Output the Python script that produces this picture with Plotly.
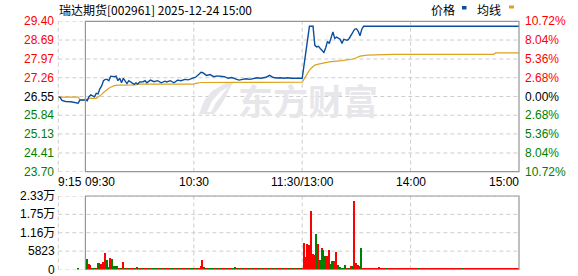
import plotly.graph_objects as go

W, H = 578, 276

title_text = "瑞达期货[002961] 2025-12-24 15:00"
prev_close = 26.55
price_ticks = [29.40, 28.69, 27.97, 27.26, 26.55, 25.84, 25.13, 24.41, 23.70]
pct_labels = ["10.72%", "8.04%", "5.36%", "2.68%", "0.00%", "2.68%", "5.36%", "8.04%", "10.72%"]
vol_ticks = [23292, 17469, 11646, 5823, 0]
vol_labels = ["2.33万", "1.75万", "1.16万", "5823", "0"]
xtick_times = ["09:15", "09:30", "10:30", "11:30", "14:00", "15:00"]
xtick_labels = ["9:15", "09:30", "10:30", "11:30/13:00", "14:00", "15:00"]
legend_names = ["价格", "均线"]
watermark = "东方财富"

price_times = ["09:15", "09:16", "09:17", "09:19", "09:22", "09:24", "09:26", "09:27", "09:30", "09:31",
               "09:32", "09:33", "09:34", "09:35", "09:36", "09:37", "09:38", "09:39", "09:40", "09:41",
               "09:42", "09:43", "09:44", "09:45", "09:46", "09:47", "09:48", "09:49", "09:50", "09:51",
               "09:52", "09:53", "09:54", "09:55", "09:56", "09:57", "09:58", "09:59", "10:00", "10:02",
               "10:03", "10:04", "10:06", "10:08", "10:10", "10:12", "10:14", "10:15", "10:17", "10:19",
               "10:21", "10:23", "10:25", "10:27", "10:29", "10:31", "10:33", "10:34", "10:35", "10:37",
               "10:39", "10:41", "10:43", "10:45", "10:47", "10:49", "10:51", "10:53", "10:55", "10:57",
               "10:59", "11:01", "11:03", "11:05", "11:07", "11:10", "11:12", "11:14", "11:16", "11:18",
               "11:20", "11:22", "11:24", "11:26", "11:28", "11:30", "13:01", "13:02", "13:03", "13:04",
               "13:06", "13:07", "13:08", "13:09", "13:10", "13:11", "13:12", "13:13", "13:14", "13:15",
               "13:16", "13:17", "13:18", "13:19", "13:21", "13:22", "13:23", "13:25", "13:26", "13:27",
               "13:28", "13:29", "13:30", "13:31", "13:32", "13:33", "13:34", "15:00"]
price_values = [26.53, 26.52, 26.40, 26.36, 26.35, 26.32, 26.30, 26.42, 26.42, 26.39,
                26.54, 26.61, 26.57, 26.54, 26.67, 26.65, 26.84, 26.95, 27.15, 27.20,
                27.20, 27.15, 27.32, 27.30, 27.30, 27.32, 27.15, 27.24, 27.07, 27.24,
                27.15, 27.04, 27.15, 27.11, 27.05, 27.01, 27.07, 27.02, 27.10, 27.11,
                27.15, 27.07, 27.17, 27.11, 27.15, 27.07, 27.13, 27.10, 27.15, 27.07,
                27.17, 27.15, 27.20, 27.18, 27.24, 27.28, 27.40, 27.47, 27.45, 27.35,
                27.38, 27.30, 27.33, 27.31, 27.30, 27.24, 27.27, 27.22, 27.17, 27.20,
                27.22, 27.20, 27.24, 27.26, 27.24, 27.28, 27.35, 27.27, 27.25, 27.26,
                27.24, 27.26, 27.24, 27.25, 27.24, 27.24, 27.70, 28.15, 28.60, 29.21,
                29.21, 28.49, 28.43, 28.45, 28.37, 28.30, 28.22, 28.40, 28.64, 28.56,
                28.81, 29.00, 28.75, 28.80, 28.72, 28.56, 28.72, 28.68, 28.75, 28.87,
                28.95, 29.10, 29.12, 29.02, 28.85, 29.10, 29.21, 29.21]

avg_times = ["09:15", "09:26", "09:27", "09:30", "09:31", "09:32", "09:36", "09:37", "09:38", "09:39",
             "09:40", "09:41", "09:42", "09:43", "09:44", "09:45", "09:46", "09:48", "09:58", "09:59",
             "10:30", "10:31", "10:34", "11:30", "13:01", "13:02", "13:03", "13:04", "13:05", "13:06",
             "13:07", "13:09", "13:11", "13:15", "13:22", "13:28", "13:30", "13:32", "13:36", "13:50",
             "14:46", "14:47", "15:00"]
avg_values = [26.53, 26.53, 26.42, 26.42, 26.45, 26.48, 26.48, 26.52, 26.56, 26.63,
              26.70, 26.76, 26.81, 26.86, 26.90, 26.94, 26.96, 26.98, 26.99, 27.02,
              27.02, 27.05, 27.08, 27.09, 27.20, 27.35, 27.45, 27.55, 27.62, 27.68,
              27.74, 27.78, 27.81, 27.86, 27.91, 27.97, 28.02, 28.08, 28.12, 28.15,
              28.15, 28.20, 28.20]

# call auction volume (09:26)
auction_time = "09:26"
auction_vol = 530
auction_dir = "g"

# morning minute volumes 09:31 .. 11:30 (120 values)
vol_am = [3190, 1600, 1280, 420, 420, 530, 2130, 2130, 1600, 2450,
          5320, 2870, 740, 3510, 3190, 960, 960, 960, 420, 420,
          2340, 320, 320, 420, 320, 320, 320, 320, 740, 320,
          320, 320, 420, 320, 320, 320, 320, 320, 320, 320,
          320, 320, 420, 320, 320, 320, 320, 320, 320, 320,
          320, 320, 320, 320, 420, 320, 320, 320, 320, 320,
          320, 320, 420, 960, 2870, 640, 320, 320, 320, 320,
          320, 320, 320, 320, 320, 320, 320, 320, 320, 320,
          320, 320, 640, 320, 320, 320, 320, 320, 320, 320,
          320, 320, 320, 320, 320, 320, 320, 320, 320, 320,
          320, 320, 320, 320, 320, 320, 320, 320, 320, 320,
          320, 320, 320, 320, 320, 320, 320, 320, 320, 320]
dir_am = ("grrggrrgrr" "rggrggggrg"
          "rgrgrrgrrg" "rgrrgrgrgg"
          "rgrgrrgrgr" "grgrrgrgrg"
          "rgrrrgrgrg" "grgrgrrgrg"
          "rggrgrgrrg" "grgrrgrgrg"
          "rgrgrgrrgr" "grgrgrgrgr")

# afternoon minute volumes 13:01 .. 15:00 (120 values)
vol_pm = [8510, 3930, 7980, 7660, 18400, 4790, 4470, 11170, 7980, 2870,
          6700, 6060, 4250, 4250, 6060, 1600, 2660, 2660, 5640, 1280,
          740, 320, 320, 1280, 320, 320, 960, 960, 21600, 2130,
          1280, 1060, 6700, 320, 320, 320, 320, 320, 320, 320,
          320, 320, 640, 320, 320, 320, 320, 320, 320, 320,
          320, 320, 320, 320, 320, 320, 320, 320, 320, 320,
          320, 320, 320, 320, 320, 320, 320, 320, 320, 320,
          320, 320, 320, 320, 320, 320, 320, 320, 320, 320,
          320, 320, 320, 320, 320, 320, 320, 320, 320, 320,
          320, 320, 320, 320, 320, 320, 320, 320, 320, 320,
          320, 320, 320, 320, 320, 320, 320, 320, 320, 320,
          320, 320, 320, 320, 320, 320, 320, 320, 320, 320]
dir_pm = ("rrrrrrrgrg" "rggrrggrrg"
          "ggggrgrgrr" "rggrrrrrrr"
          "rrrrrrgrrr" "rrrrrrrrrr"
          "rrrrgrrrrr" "rrrrrrrrrr"
          "rrrrrrrrgr" "rrrrrrrrrr"
          "rrrrrrrrrr" "rrrrrrrrrr")

RED = "#ff0000"
GREEN = "#008000"
BLUE = "#0b4f9e"
GOLD = "#dca21e"
GRID = "#cdcdcd"
BORDER = "#969696"
FONT = "Liberation Sans, Arial, Noto Sans CJK SC, sans-serif"
CJK = "Noto Sans CJK SC, sans-serif"


def tpos(t):
    h, m = map(int, t.split(":"))
    mins = h * 60 + m
    if mins >= 13 * 60:
        return mins - 13 * 60 + 135
    return mins - (9 * 60 + 15)


def px_x(x):
    return x / W


def px_y(y):
    return 1 - y / H


am_times = ["%02d:%02d" % divmod(9 * 60 + 31 + i, 60) for i in range(120)]
pm_times = ["%02d:%02d" % divmod(13 * 60 + 1 + i, 60) for i in range(120)]
bar_times = [auction_time] + am_times + pm_times
bar_vols = [auction_vol] + vol_am + vol_pm
bar_dirs = auction_dir + dir_am + dir_pm
bar_colors = [RED if d == "r" else GREEN for d in bar_dirs]

x_lo, x_hi = tpos("09:15"), tpos("15:00")
open_pos = tpos("09:30")

fig = go.Figure()
fig.add_trace(go.Scatter(x=[tpos(t) for t in avg_times], y=avg_values, mode="lines",
                         line=dict(color=GOLD, width=1.2), xaxis="x", yaxis="y", hoverinfo="skip"))
fig.add_trace(go.Scatter(x=[tpos(t) for t in price_times], y=price_values, mode="lines",
                         line=dict(color=BLUE, width=1.4), xaxis="x", yaxis="y", hoverinfo="skip"))
fig.add_trace(go.Bar(x=[tpos(t) for t in bar_times], y=bar_vols, marker=dict(color=bar_colors, line=dict(width=0)),
                     width=0.7, xaxis="x2", yaxis="y2", hoverinfo="skip"))

dom_x = [58.3 / W, 519.0 / W]
dom_p = [px_y(171.7), px_y(21.3)]
dom_v = [px_y(269.5), px_y(196.0)]

ax_common = dict(showgrid=False, zeroline=False, showticklabels=False, ticks="", showline=False, fixedrange=True)
fig.update_layout(
    width=W, height=H, margin=dict(l=0, r=0, t=0, b=0),
    paper_bgcolor="white", plot_bgcolor="white", showlegend=False,
    xaxis=dict(domain=dom_x, range=[x_lo, x_hi], anchor="y", **ax_common),
    yaxis=dict(domain=dom_p, range=[price_ticks[-1], price_ticks[0]], anchor="x", **ax_common),
    xaxis2=dict(domain=dom_x, range=[x_lo, x_hi], anchor="y2", **ax_common),
    yaxis2=dict(domain=dom_v, range=[0, vol_ticks[0]], anchor="x2", **ax_common),
    bargap=0,
)

shapes = []
dash = "4px,3px"
open_frac = (open_pos - x_lo) / (x_hi - x_lo)
# price panel grid
for v in price_ticks:
    shapes.append(dict(type="line", xref="x domain", yref="y", x0=0, x1=1, y0=v, y1=v,
                       line=dict(color=GRID, width=1, dash=dash), layer="below"))
for t in ["10:30", "11:30", "14:00"]:
    shapes.append(dict(type="line", xref="x", yref="y domain", x0=tpos(t), x1=tpos(t), y0=0, y1=1,
                       line=dict(color=GRID, width=1, dash=dash), layer="below"))
shapes.append(dict(type="line", xref="x domain", yref="y domain", x0=0, x1=0, y0=0, y1=1,
                   line=dict(color=GRID, width=1, dash=dash), layer="below"))
shapes.append(dict(type="rect", xref="x domain", yref="y domain", x0=open_frac, x1=1, y0=0, y1=1,
                   line=dict(color=BORDER, width=1.2), layer="above"))
# volume panel grid
for v in vol_ticks:
    shapes.append(dict(type="line", xref="x2 domain", yref="y2", x0=0, x1=1, y0=v, y1=v,
                       line=dict(color=GRID, width=1, dash=dash), layer="below"))
for t in ["10:30", "11:30", "14:00"]:
    shapes.append(dict(type="line", xref="x2", yref="y2 domain", x0=tpos(t), x1=tpos(t), y0=0, y1=1,
                       line=dict(color=GRID, width=1, dash=dash), layer="below"))
shapes.append(dict(type="line", xref="x2 domain", yref="y2 domain", x0=0, x1=0, y0=0, y1=1,
                   line=dict(color=GRID, width=1, dash=dash), layer="below"))
shapes.append(dict(type="rect", xref="x2 domain", yref="y2 domain", x0=open_frac, x1=1, y0=0, y1=1,
                   line=dict(color=BORDER, width=1.2), layer="above"))

# watermark logo (decorative)
def pth(points):
    s = "M %f,%f " % (px_x(points[0][0]), px_y(points[0][1]))
    for (a, b) in points[1:]:
        s += "L %f,%f " % (px_x(a), px_y(b))
    return s + "Z"

shapes.append(dict(type="path", xref="paper", yref="paper", layer="below",
                   path=pth([(199, 114), (204, 101), (212, 91), (224, 84), (234, 81), (229, 90),
                             (224, 100), (219, 108), (214, 114)]),
                   fillcolor="#e7e7eb", line=dict(width=0)))
shapes.append(dict(type="path", xref="paper", yref="paper", layer="below",
                   path=pth([(207, 112), (212, 101), (220, 92), (228, 87), (222, 95), (215, 104), (211, 112)]),
                   fillcolor="white", line=dict(width=0)))

# legend marks
shapes.append(dict(type="rect", xref="paper", yref="paper", x0=px_x(462), x1=px_x(466.5), y0=px_y(9.5), y1=px_y(6),
                   fillcolor=BLUE, line=dict(width=0)))
shapes.append(dict(type="rect", xref="paper", yref="paper", x0=px_x(509), x1=px_x(514), y0=px_y(8.5), y1=px_y(5.5),
                   fillcolor=GOLD, line=dict(width=0)))
fig.update_layout(shapes=shapes)

ann = []
ann.append(dict(text=watermark, xref="paper", yref="paper", x=px_x(308), y=px_y(99), xanchor="center",
                yanchor="middle", showarrow=False, font=dict(family=CJK, size=35, color="#e7e7eb", weight="bold")))
ann.append(dict(text=title_text, xref="paper", yref="paper", x=px_x(57), y=px_y(9), xanchor="left",
                yanchor="middle", showarrow=False, font=dict(family=CJK, size=12, color="#000")))
ann.append(dict(text=legend_names[0], xref="paper", yref="paper", x=px_x(442.5), y=px_y(9.5), xanchor="center",
                yanchor="middle", showarrow=False, font=dict(family=CJK, size=12, color="#000")))
ann.append(dict(text=legend_names[1], xref="paper", yref="paper", x=px_x(489), y=px_y(9.5), xanchor="center",
                yanchor="middle", showarrow=False, font=dict(family=CJK, size=12, color="#000")))

for v, lab in zip(price_ticks, pct_labels):
    if v > prev_close + 1e-9:
        c = RED
    elif v < prev_close - 1e-9:
        c = GREEN
    else:
        c = "#000"
    ann.append(dict(text="%.2f" % v, xref="paper", yref="y", x=px_x(56), y=v, xanchor="right", yanchor="middle",
                    showarrow=False, font=dict(family=FONT, size=12, color=c)))
    ann.append(dict(text=lab, xref="paper", yref="y", x=px_x(523), y=v, xanchor="left", yanchor="middle",
                    showarrow=False, font=dict(family=FONT, size=12, color=c)))

for v, lab in zip(vol_ticks, vol_labels):
    ann.append(dict(text=lab, xref="paper", yref="y2", x=px_x(57), y=v, xanchor="right", yanchor="middle",
                    showarrow=False, font=dict(family=FONT, size=12, color="#000")))

anchors = ["left", "left", "center", "center", "center", "right"]
for t, lab, a in zip(xtick_times, xtick_labels, anchors):
    ann.append(dict(text=lab, xref="x", yref="paper", x=tpos(t), y=px_y(182), xanchor=a, yanchor="middle",
                    xshift=-2 if a == "left" else (2 if a == "right" else 0),
                    showarrow=False, font=dict(family=FONT, size=12, color="#000")))

fig.update_layout(annotations=ann)
fig.write_html("out.html")
